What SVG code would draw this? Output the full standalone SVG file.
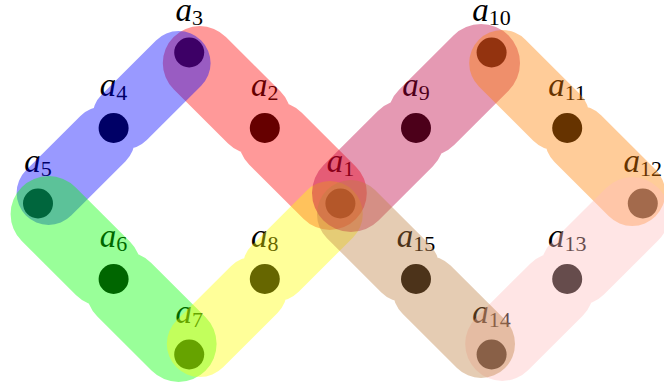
<svg xmlns="http://www.w3.org/2000/svg" width="664" height="387" viewBox="0 0 664 387">
<style>
.dot{fill:#000}
.lbl{font-family:"Liberation Serif","Times New Roman",serif;font-style:italic;font-size:33px;text-anchor:middle;fill:#000}
.sub{font-style:normal;font-size:22px}
.he{fill:none;stroke-linecap:round;stroke-opacity:0.4}
</style>
<rect width="664" height="387" fill="#fff"/>
<g id="nodes">
<g id="a1"><circle class="dot" cx="340.4" cy="203.5" r="15"/><text class="lbl" x="340.4" y="171.5">a<tspan class="sub" dy="4">1</tspan></text></g>
<g id="a2"><circle class="dot" cx="264.8" cy="128" r="15"/><text class="lbl" x="264.8" y="96">a<tspan class="sub" dy="4">2</tspan></text></g>
<g id="a3"><circle class="dot" cx="189.2" cy="52.5" r="15"/><text class="lbl" x="189.2" y="21">a<tspan class="sub" dy="4">3</tspan></text></g>
<g id="a4"><circle class="dot" cx="113.6" cy="128" r="15"/><text class="lbl" x="113.6" y="96">a<tspan class="sub" dy="4">4</tspan></text></g>
<g id="a5"><circle class="dot" cx="38" cy="203.5" r="15"/><text class="lbl" x="38" y="171.5">a<tspan class="sub" dy="4">5</tspan></text></g>
<g id="a6"><circle class="dot" cx="113.6" cy="279" r="15"/><text class="lbl" x="113.6" y="247">a<tspan class="sub" dy="4">6</tspan></text></g>
<g id="a7"><circle class="dot" cx="189.2" cy="354.5" r="15"/><text class="lbl" x="189.2" y="322.5">a<tspan class="sub" dy="4">7</tspan></text></g>
<g id="a8"><circle class="dot" cx="264.8" cy="279" r="15"/><text class="lbl" x="264.8" y="247">a<tspan class="sub" dy="4">8</tspan></text></g>
<g id="a9"><circle class="dot" cx="416" cy="128" r="15"/><text class="lbl" x="416" y="96">a<tspan class="sub" dy="4">9</tspan></text></g>
<g id="a10"><circle class="dot" cx="491.6" cy="52.5" r="15"/><text class="lbl" x="491.6" y="21">a<tspan class="sub" dy="4">10</tspan></text></g>
<g id="a11"><circle class="dot" cx="567.2" cy="128" r="15"/><text class="lbl" x="567.2" y="96">a<tspan class="sub" dy="4">11</tspan></text></g>
<g id="a12"><circle class="dot" cx="642.8" cy="203.5" r="15"/><text class="lbl" x="642.8" y="171.5">a<tspan class="sub" dy="4">12</tspan></text></g>
<g id="a13"><circle class="dot" cx="567.2" cy="279" r="15"/><text class="lbl" x="567.2" y="247">a<tspan class="sub" dy="4">13</tspan></text></g>
<g id="a14"><circle class="dot" cx="491.6" cy="354.5" r="15"/><text class="lbl" x="491.6" y="322.5">a<tspan class="sub" dy="4">14</tspan></text></g>
<g id="a15"><circle class="dot" cx="416" cy="279" r="15"/><text class="lbl" x="416" y="247">a<tspan class="sub" dy="4">15</tspan></text></g>
</g>
<g id="connectors">
<path id="e-red" class="he" stroke="#ff0000" stroke-width="74" d="M199.8,63.1L254.2,117.4M275.4,138.6L329.8,192.9"/>
<path id="e-blue" class="he" stroke="#0000ff" stroke-width="64" d="M178.6,63.1L124.2,117.4M103,138.6L48.6,192.9"/>
<path id="e-green" class="he" stroke="#00ff00" stroke-width="76" d="M48.6,214.1L103,268.4M124.2,289.6L178.6,343.9"/>
<path id="e-yellow" class="he" stroke="#ffff00" stroke-width="66" d="M199.8,343.9L254.2,289.6M275.4,268.4L329.8,214.1"/>
<path id="e-purple" class="he" stroke="#bf0040" stroke-width="78" d="M351,192.9L405.4,138.6M426.6,117.4L481,63.1"/>
<path id="e-orange" class="he" stroke="#ff8000" stroke-width="66" d="M502.2,63.1L556.6,117.4M577.8,138.6L632.2,192.9"/>
<path id="e-pink" class="he" stroke="#ffbfbf" stroke-width="74" d="M632.2,214.1L577.8,268.4M556.6,289.6L502.2,343.9"/>
<path id="e-brown" class="he" stroke="#bf8040" stroke-width="68" d="M351,214.1L405.4,268.4M426.6,289.6L481,343.9"/>
</g>
</svg>
